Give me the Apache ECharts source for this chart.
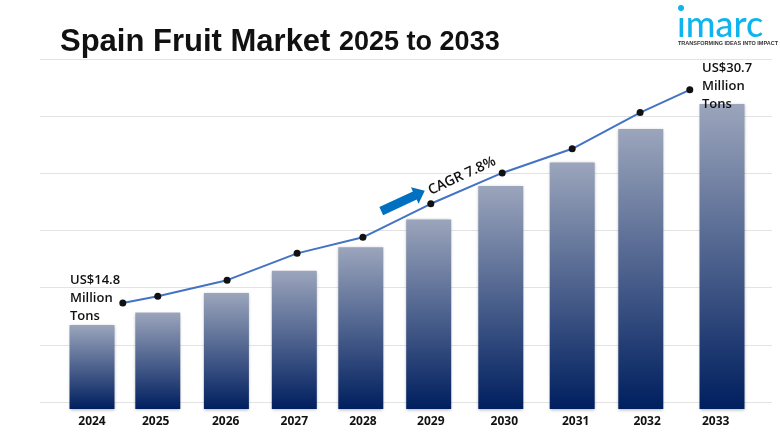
<!DOCTYPE html>
<html>
<head>
<meta charset="utf-8">
<style>
  html, body { margin: 0; padding: 0; background: #fff; }
  #chart { width: 780px; height: 440px; }
</style>
<script src="https://cdn.jsdelivr.net/npm/echarts@6/dist/echarts.min.js"></script>
</head>
<body>
<div id="chart"></div>
<script>
// 年份标签
const yearLabels = ['2024', '2025', '2026', '2027', '2028', '2029', '2030', '2031', '2032', '2033'];
// the picture does not space its years evenly, so x is a fractional year
const labelYears = [2024, 2024.91, 2025.91, 2026.89, 2027.87, 2028.84, 2029.89, 2030.91, 2031.93, 2032.91];
const barYears = [2024, 2024.94, 2025.92, 2026.89, 2027.84, 2028.81, 2029.84, 2030.86, 2031.84, 2033];
const barValues = [14.8, 15.7, 17.1, 18.7, 20.4, 22.4, 24.8, 26.5, 28.9, 30.7];
const lineYears = [2024.44, 2024.94, 2025.93, 2026.93, 2027.87, 2028.84, 2029.86, 2030.86, 2031.83, 2032.54];
const lineValues = [14.8, 15.3, 16.5, 18.5, 19.7, 22.2, 24.5, 26.3, 29.0, 30.7];

const chart = echarts.init(document.getElementById('chart'));
const textFont = '"Open Sans", sans-serif';

chart.setOption({
  animation: false,
  backgroundColor: '#ffffff',
  title: {
    left: 55,
    top: 22,
    text: '{a|Spain Fruit Market }{b|2025 to 2033}',
    textStyle: {
      rich: {
        a: { fontFamily: '"Liberation Sans", sans-serif', fontWeight: 'bold', fontSize: 31, color: '#111111' },
        b: { fontFamily: '"Liberation Sans", sans-serif', fontWeight: 'bold', fontSize: 27, color: '#111111' },
      },
    },
  },
  grid: [
    { left: 36, right: 2, top: 59, bottom: 31 },
    // 背景网格线
    { left: 40, right: 8, top: 59, bottom: 38 },
  ],
  xAxis: [
    {
      type: 'value',
      gridIndex: 0,
      min: 2023.2,
      max: 2033.8,
      splitLine: { show: false },
      axisLine: { show: false },
      axisTick: { show: false },
      axisLabel: {
        customValues: labelYears,
        formatter: (val) => yearLabels[labelYears.indexOf(val)],
        margin: 7,
        color: '#111111',
        fontFamily: textFont,
        fontWeight: 'bold',
        fontSize: 12,
      },
    },
    { type: 'value', gridIndex: 1, min: 0, max: 1, show: false },
  ],
  yAxis: [
    { type: 'value', gridIndex: 0, min: 8.76, max: 33.94, show: false },
    { type: 'value', gridIndex: 0, min: 6.89, max: 33.0, show: false },
    {
      type: 'value',
      gridIndex: 1,
      min: 0,
      max: 6,
      interval: 1,
      axisLine: { show: false },
      axisTick: { show: false },
      axisLabel: { show: false },
      splitLine: { lineStyle: { color: '#e3e3e3', width: 1 } },
    },
  ],
  series: [
    {
      type: 'bar',
      xAxisIndex: 0,
      yAxisIndex: 0,
      barWidth: 45,
      data: barYears.map((year, i) => [year, barValues[i]]),
      itemStyle: {
        color: new echarts.graphic.LinearGradient(0, 0, 0, 1, [
          { offset: 0, color: '#9ba5bc' },
          { offset: 1, color: '#001f5f' },
        ]),
        shadowBlur: 3,
        shadowColor: 'rgba(0,0,0,0.3)',
        shadowOffsetY: 1,
      },
    },
    {
      type: 'line',
      xAxisIndex: 0,
      yAxisIndex: 1,
      data: lineYears.map((year, i) => [year, lineValues[i]]),
      symbol: 'circle',
      symbolSize: 7,
      lineStyle: { color: '#4472c4', width: 2 },
      itemStyle: { color: '#111111' },
    },
    // keeps the background grid alive
    { type: 'line', xAxisIndex: 1, yAxisIndex: 2, data: [], silent: true },
  ],
  graphic: [
    {
      type: 'text',
      left: 702,
      top: 59,
      z: 10,
      style: {
        text: 'US$30.7\nMillion\nTons',
        fontFamily: textFont,
        fontWeight: 600,
        fontSize: 13,
        lineHeight: 18,
        fill: '#111111',
      },
    },
    {
      type: 'text',
      left: 70,
      top: 271,
      z: 10,
      style: {
        text: 'US$14.8\nMillion\nTons',
        fontFamily: textFont,
        fontWeight: 600,
        fontSize: 13,
        lineHeight: 18,
        fill: '#111111',
      },
    },
    {
      type: 'text',
      x: 462,
      y: 176,
      rotation: (25 * Math.PI) / 180,
      z: 10,
      style: {
        text: 'CAGR 7.8%',
        align: 'center',
        verticalAlign: 'middle',
        fontFamily: textFont,
        fontWeight: 600,
        fontSize: 14,
        fill: '#111111',
      },
    },
    // CAGR 箭头
    {
      type: 'polygon',
      x: 403,
      y: 201,
      rotation: (25 * Math.PI) / 180,
      z: 10,
      shape: { points: [[-24, -4.5], [13, -4.5], [13, -9], [24, 0], [13, 9], [13, 4.5], [-24, 4.5]] },
      style: { fill: '#0070c0' },
    },
    // logo
    {
      type: 'circle',
      shape: { cx: 681, cy: 8, r: 3 },
      style: { fill: '#0fb4ee' },
    },
    {
      type: 'text',
      left: 677,
      top: 7,
      style: {
        text: 'ımarc',
        fontFamily: 'Lato, sans-serif',
        fontWeight: 500,
        fontSize: 36,
        fill: '#0fb4ee',
      },
    },
    {
      type: 'text',
      left: 678,
      top: 40,
      style: {
        text: 'TRANSFORMING IDEAS INTO IMPACT',
        fontFamily: '"Liberation Sans", sans-serif',
        fontWeight: 'bold',
        fontSize: 5.5,
        fill: '#333333',
      },
    },
  ],
});
</script>
</body>
</html>
